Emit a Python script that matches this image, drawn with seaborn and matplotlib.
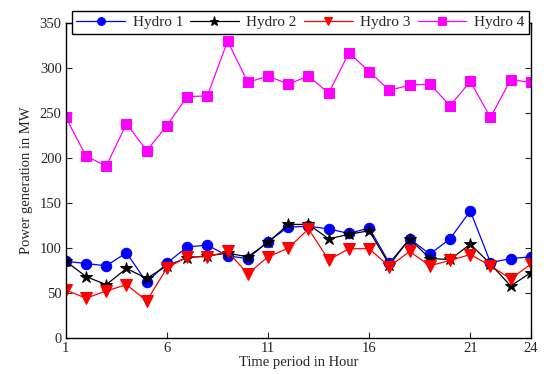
import numpy as np
import pandas as pd
import matplotlib
matplotlib.use("Agg")
import matplotlib.pyplot as plt
import seaborn as sns

hours = list(range(1, 25))
hydro1 = [85, 82.5, 80, 94.5, 61.5, 83, 101, 103, 91, 88, 107, 123, 124, 121, 116, 122, 83, 110, 93, 110, 141, 83.5, 88, 90]
hydro2 = [85, 68, 59, 77, 66, 80, 89, 91, 94, 90, 106, 126, 126, 110, 115, 119, 81, 110, 88, 87, 104, 82, 57.5, 72.5]
hydro3 = [53, 44, 52, 59, 41, 77.5, 90, 90, 96, 71, 90, 99.5, 121, 86.5, 99, 99, 79, 96, 80, 86, 92.5, 80, 65.5, 82]
hydro4 = [245, 202, 191, 238, 208, 236, 268, 269, 330, 284, 291, 282, 291, 272, 317, 296, 275, 281, 282, 258, 285, 245, 287, 284]
series_names = ["Hydro 1", "Hydro 2", "Hydro 3", "Hydro 4"]
xticks = [1, 6, 11, 16, 21, 24]
yticks = [0, 50, 100, 150, 200, 250, 300, 350]

df = pd.DataFrame({
    "hour": hours * 4,
    "value": hydro1 + hydro2 + hydro3 + hydro4,
    "series": sum([[n] * 24 for n in series_names], []),
})

sns.set_style("ticks")
plt.rcParams["font.family"] = ["Liberation Serif", "DejaVu Serif"]
plt.rcParams["xtick.direction"] = "in"
plt.rcParams["ytick.direction"] = "in"

fig = plt.figure(figsize=(5.44, 3.74), dpi=100)
ax = fig.add_axes([0.121, 0.097, 0.855, 0.8415])

palette = {"Hydro 1": "#0000ff", "Hydro 2": "#000000", "Hydro 3": "#ff0000", "Hydro 4": "#ff00ff"}
markers = {"Hydro 1": "o", "Hydro 2": "*", "Hydro 3": "v", "Hydro 4": "s"}
sizes = {"Hydro 1": 7.5, "Hydro 2": 9, "Hydro 3": 8, "Hydro 4": 7.5}

for name in series_names:
    sub = df[df["series"] == name]
    sns.lineplot(data=sub, x="hour", y="value", ax=ax, color=palette[name],
                 marker=markers[name], markersize=sizes[name],
                 markeredgecolor=palette[name], linewidth=0.9, label=name)

ax.set_xlim(1, 24)
ax.set_ylim(0, 350)
ax.set_xticks(xticks)
ax.set_yticks(yticks)
ax.tick_params(axis="both", labelsize=10.5, length=4, width=0.8, top=True, right=True, pad=3)
for s in ax.spines.values():
    s.set_linewidth(1.0)
    s.set_color("black")
ax.set_xlabel("Time period in Hour", fontsize=10.5, labelpad=1)
ax.set_ylabel("Power generation in MW", fontsize=10.5, labelpad=5)

leg = ax.legend(loc="center", bbox_to_anchor=(0.552, 0.94), bbox_transform=fig.transFigure,
                ncol=4, frameon=True, fancybox=False, fontsize=11, handlelength=3.2,
                markerscale=0.75, columnspacing=0.45, handletextpad=0.5, borderpad=0.3,
                borderaxespad=0)
leg.get_frame().set_edgecolor("black")
leg.get_frame().set_linewidth(1.0)
leg.get_frame().set_alpha(1)

fig.savefig("out.png", dpi=100)
